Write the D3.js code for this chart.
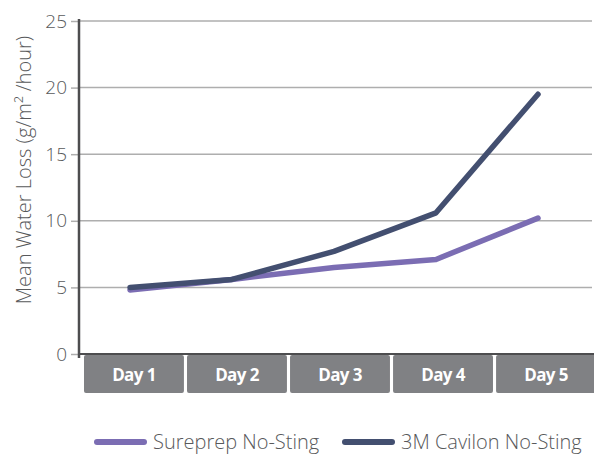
<!DOCTYPE html>
<html><head><meta charset="utf-8">
<script src="https://cdn.jsdelivr.net/npm/d3@7"></script>
<style>body{margin:0;background:#fff;} svg{display:block;font-family:"Open Sans",sans-serif;}</style>
</head><body>
<svg id="c" width="594" height="456"></svg>
<script>
const categories = ["Day 1","Day 2","Day 3","Day 4","Day 5"];
const sureprep = [4.8, 5.6, 6.5, 7.1, 10.2];
const cavilon = [5.0, 5.6, 7.7, 10.6, 19.5];
const seriesNames = ["Sureprep No-Sting","3M Cavilon No-Sting"];
const seriesColors = ["#7b6db3","#434f70"];
const yTicks = [0,5,10,15,20,25];

const svg = d3.select("#c");
const x0 = 79, yTop = 21, yBot = 354;
const y = d3.scaleLinear().domain([0,25]).range([yBot,yTop]);
const xb = d3.scaleBand().domain(categories).range([84,596]).paddingInner(0.03).paddingOuter(0);
const xp = d3.scalePoint().domain(categories).range([130,538]);

// gridlines
svg.append("g").selectAll("line").data(yTicks.slice(1)).join("line")
  .attr("x1",x0).attr("x2",592).attr("y1",d=>y(d)).attr("y2",d=>y(d))
  .attr("stroke","#aeaeae").attr("stroke-width",1.5);

// y axis
const ya = svg.append("g").attr("transform",`translate(${x0},0)`)
  .call(d3.axisLeft(y).tickValues(yTicks).tickSize(8).tickPadding(4));
ya.select(".domain").remove();
ya.selectAll(".tick line").attr("stroke","#aeaeae").attr("stroke-width",1.5);
ya.selectAll(".tick text").attr("font-size",19).attr("fill","#58595b").attr("font-family","Open Sans").attr("font-weight",300);
svg.append("line").attr("x1",x0).attr("x2",x0).attr("y1",yTop-2).attr("y2",yBot+4)
  .attr("stroke","#4d4d4f").attr("stroke-width",2.5);

// x axis line
svg.append("line").attr("x1",x0).attr("x2",594).attr("y1",yBot).attr("y2",yBot)
  .attr("stroke","#4d4d4f").attr("stroke-width",2);

// category boxes
const cg = svg.append("g");
cg.selectAll("rect").data(categories).join("rect")
  .attr("x",d=>xb(d)).attr("y",yBot+1).attr("width",xb.bandwidth()).attr("height",38)
  .attr("rx",2).attr("fill","#808184");
cg.selectAll("text").data(categories).join("text")
  .attr("x",d=>xb(d)+xb.bandwidth()/2).attr("y",yBot+27)
  .attr("text-anchor","middle").attr("fill","#fff").attr("font-size",17).attr("font-weight",700)
  .attr("letter-spacing",-0.6).text(d=>d);

// y title
svg.append("text").attr("transform","translate(31,170) rotate(-90)")
  .attr("text-anchor","middle").attr("font-size",20).attr("fill","#58595b").attr("font-weight",300)
  .text("Mean Water Loss (g/m² /hour)");

// lines
const line = d3.line().x((d,i)=>xp(categories[i])).y(d=>y(d));
[sureprep, cavilon].forEach((s,k)=>{
  svg.append("path").attr("d",line(s)).attr("fill","none")
    .attr("stroke",seriesColors[k]).attr("stroke-width",5.5)
    .attr("stroke-linecap","round").attr("stroke-linejoin","round");
});

// legend
const lg = [{x:97},{x:345}];
lg.forEach((p,k)=>{
  svg.append("line").attr("x1",p.x).attr("x2",p.x+47).attr("y1",442).attr("y2",442)
    .attr("stroke",seriesColors[k]).attr("stroke-width",6).attr("stroke-linecap","round");
  svg.append("text").attr("x",p.x+56).attr("y",449).attr("font-size",20).attr("fill","#58595b")
    .attr("font-weight",300).text(seriesNames[k]);
});
</script>
</body></html>
